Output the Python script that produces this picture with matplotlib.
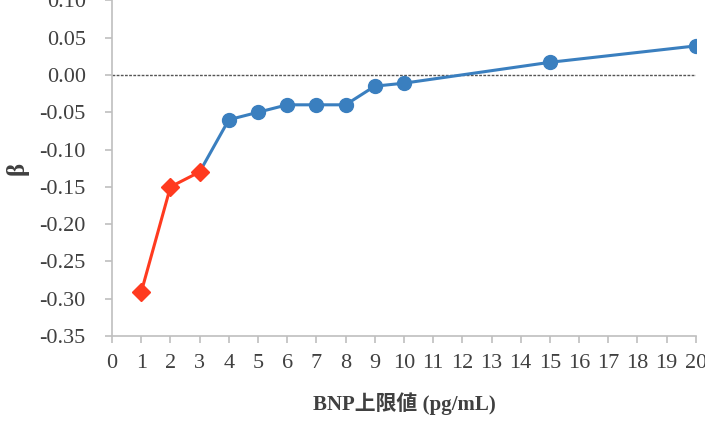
import numpy as np
import matplotlib.pyplot as plt

# BNP upper limit vs beta
x_red = [1, 2, 3]
y_red = [-0.291, -0.150, -0.130]
x_blue = [3, 4, 5, 6, 7, 8, 9, 10, 15, 20]
y_blue = [-0.130, -0.060, -0.050, -0.040, -0.040, -0.040, -0.015, -0.011, 0.017, 0.039]
y_ticks = [-0.35, -0.30, -0.25, -0.20, -0.15, -0.10, -0.05, 0.00, 0.05, 0.10]

fig = plt.figure(figsize=(7.05, 4.21), dpi=100)
ax = fig.add_axes([0.159, 0.202, 0.828, 0.797])

serif = ['Liberation Serif', 'DejaVu Serif']
blue = '#3a7fbf'
red = '#ff3a1f'

ax.axhline(0, color='#555555', lw=1, ls=(0, (2, 1)), zorder=1)
ax.plot(x_blue, y_blue, color=blue, lw=2.2, zorder=2)
ax.plot(x_blue[1:], y_blue[1:], 'o', color=blue, ms=10, zorder=3)
ax.plot(x_red, y_red, '-D', color=red, lw=2.2, ms=9, zorder=4)

ax.set_xlim(0, 20)
ax.set_ylim(-0.35, 0.10)
ax.set_xticks(np.arange(0, 21, 1))
ax.set_yticks(y_ticks)
ax.set_yticklabels(['%.2f' % v for v in y_ticks])

for s in ['top', 'right']:
    ax.spines[s].set_visible(False)
for s in ['left', 'bottom']:
    ax.spines[s].set_color('#bfbfbf')
    ax.spines[s].set_linewidth(1.2)
ax.tick_params(direction='out', color='#bfbfbf', width=1.2, length=5,
               labelsize=16, labelcolor='#404040')
ax.tick_params(axis='x', pad=8)
ax.tick_params(axis='y', pad=14)
for lab in ax.get_xticklabels() + ax.get_yticklabels():
    lab.set_family(serif)

ax.set_xlabel('BNP上限値 (pg/mL)', fontsize=15, fontweight='bold', color='#404040',
              family=['Liberation Serif', 'Noto Sans CJK JP'], labelpad=14)
ax.set_ylabel('β', fontsize=18, fontweight='bold', color='#404040',
              family=serif, labelpad=8)

fig.savefig('out.png', dpi=100)
